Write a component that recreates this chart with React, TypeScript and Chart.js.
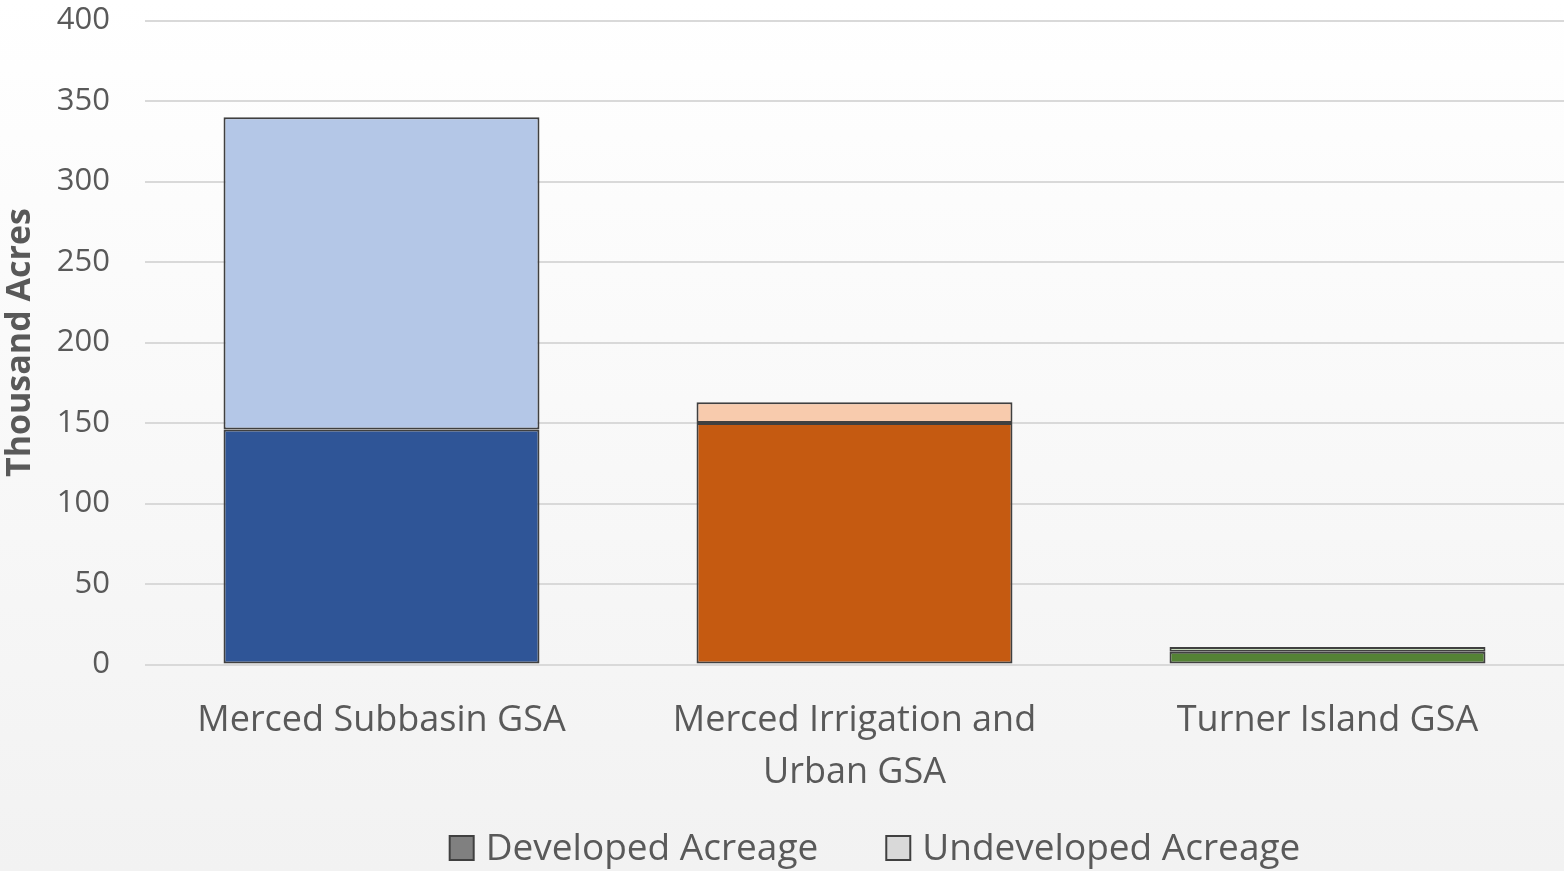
import React, { useEffect, useRef } from "react";
import { Chart, registerables } from "chart.js";

Chart.register(...registerables);

const categories: (string | string[])[] = [
  "Merced Subbasin GSA",
  ["Merced Irrigation and", "Urban GSA"],
  "Turner Island GSA",
];
const developed = [146, 150, 8];
const undeveloped = [194, 13, 3];
const developedColors = ["#2f5597", "#c55a11", "#548235"];
const undevelopedColors = ["#b4c7e7", "#f8cbad", "#c5e0b4"];
const seriesNames = ["Developed Acreage", "Undeveloped Acreage"];
const legendSwatches = ["#808080", "#d9d9d9"];
const yTitle = "Thousand Acres";

const bgPlugin = {
  id: "bgGradient",
  beforeDraw(chart: any) {
    const { ctx, width, height } = chart;
    const g = ctx.createLinearGradient(0, 0, 0, height);
    g.addColorStop(0, "#ffffff");
    g.addColorStop(1, "#f2f2f2");
    ctx.save();
    ctx.fillStyle = g;
    ctx.fillRect(0, 0, width, height);
    ctx.restore();
  },
};

const legendPlugin = {
  id: "customLegend",
  afterDraw(chart: any) {
    const { ctx, width, height } = chart;
    ctx.save();
    ctx.font = "37px 'Open Sans'";
    ctx.textBaseline = "middle";
    const box = 24;
    const gapText = 12;
    const gapItem = 68;
    const widths = seriesNames.map((s) => ctx.measureText(s).width);
    const total = widths.reduce((a, w) => a + box + gapText + w, 0) + gapItem;
    let x = width / 2 + 93 - total / 2;
    const y = height - 23;
    seriesNames.forEach((s, i) => {
      ctx.fillStyle = legendSwatches[i];
      ctx.fillRect(x, y - box / 2, box, box);
      ctx.strokeStyle = "#404040";
      ctx.lineWidth = 2;
      ctx.strokeRect(x, y - box / 2, box, box);
      ctx.fillStyle = "#595959";
      ctx.fillText(s, x + box + gapText, y + 1);
      x += box + gapText + widths[i] + gapItem;
    });
    ctx.restore();
  },
};

export default function App() {
  const ref = useRef<HTMLCanvasElement | null>(null);
  useEffect(() => {
    document.body.style.margin = "0";
    const chart = new Chart(ref.current!, {
      type: "bar",
      data: {
        labels: categories,
        datasets: [
          {
            label: seriesNames[0],
            data: developed,
            backgroundColor: developedColors,
            borderColor: "#404040",
            borderWidth: 2,
            borderSkipped: false,
          },
          {
            label: seriesNames[1],
            data: undeveloped,
            backgroundColor: undevelopedColors,
            borderColor: "#404040",
            borderWidth: 2,
            borderSkipped: false,
          },
        ],
      },
      plugins: [bgPlugin, legendPlugin],
      options: {
        animation: false,
        responsive: false,
        maintainAspectRatio: false,
        layout: { padding: { top: 1, right: 0, left: 0, bottom: 50 } },
        datasets: { bar: { barPercentage: 0.668, categoryPercentage: 1 } },
        scales: {
          x: {
            stacked: true,
            grid: { display: false },
            border: { display: false },
            ticks: {
              color: "#595959",
              font: { family: "Open Sans", size: 36, lineHeight: 1.45 },
              padding: 22,
              maxRotation: 0,
            },
          },
          y: {
            stacked: true,
            min: 0,
            max: 400,
            afterFit: (scale: any) => {
              scale.width = 145;
            },
            ticks: {
              stepSize: 50,
              color: "#595959",
              font: { family: "Open Sans", size: 31 },
              padding: 2,
            },
            grid: {
              color: "#d9d9d9",
              lineWidth: 2,
              drawTicks: true,
              tickLength: 33,
              tickColor: "rgba(0,0,0,0)",
            },
            border: { display: false },
            title: {
              display: true,
              text: yTitle,
              color: "#595959",
              font: { family: "Open Sans", size: 34, weight: "bold" },
              padding: 0,
            },
          },
        },
        plugins: {
          tooltip: { enabled: false },
          legend: { display: false },
        },
      },
    } as any);
    return () => chart.destroy();
  }, []);
  return (
    <div style={{ width: 1564, height: 871 }}>
      <canvas ref={ref} width={1564} height={871} style={{ display: "block" }} />
    </div>
  );
}
